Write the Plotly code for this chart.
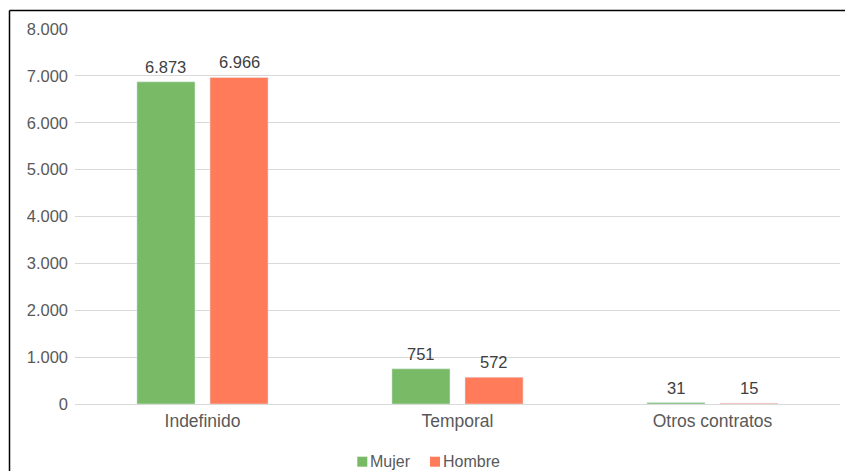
import plotly.graph_objects as go

categories = ["Indefinido", "Temporal", "Otros contratos"]
mujer = [6873, 751, 31]
hombre = [6966, 572, 15]
series_names = ["Mujer", "Hombre"]
series_colors = ["#78BA65", "#FF7B59"]
tick_vals = [0, 1000, 2000, 3000, 4000, 5000, 6000, 7000, 8000]

W, H = 845, 471
plot_left, plot_right, plot_top, plot_bottom = 75, 840, 29, 404
ml, mr, mt, mb = plot_left, W - plot_right, plot_top, H - plot_bottom
pw, ph = W - ml - mr, H - mt - mb
BARGAP, BARGROUPGAP = 0.427, 0.205

font_family = "Liberation Sans, Arial, sans-serif"
axis_color = "#595959"
label_color = "#404040"

def px_x(p):
    return (p - plot_left) / pw

def px_y(p):
    return (plot_bottom - p) / ph

fig = go.Figure()
series = [mujer, hombre]
for name, vals, col in zip(series_names, series, series_colors):
    fig.add_trace(go.Bar(x=categories, y=vals, name=name, marker_color=col, showlegend=False))

# value labels above bars (pixel offsets follow the bar grouping)
slot_px = pw / len(categories) * (1 - BARGAP) / len(series)
annotations = []
for i, vals in enumerate(series):
    xshift = (i - (len(series) - 1) / 2) * slot_px
    for c, v in zip(categories, vals):
        annotations.append(dict(
            x=c, y=v, xref="x", yref="y", text=f"{v:,}".replace(",", "."),
            showarrow=False, xanchor="center", yanchor="bottom", xshift=xshift, yshift=4,
            font=dict(size=16.5, color=label_color, family=font_family),
        ))

# legend drawn in the chart's style: small square + label
legend_sq = [(357.3, 367.3), (430, 440)]
legend_tx = [370, 443]
shapes = []
for name, col, (sx0, sx1), tx in zip(series_names, series_colors, legend_sq, legend_tx):
    shapes.append(dict(type="rect", xref="paper", yref="paper", x0=px_x(sx0), x1=px_x(sx1),
                       y0=px_y(466.7), y1=px_y(456.7), fillcolor=col, line=dict(width=0)))
    annotations.append(dict(x=px_x(tx - 1), y=px_y(461.8), xref="paper", yref="paper", text=name,
                            showarrow=False, xanchor="left", yanchor="middle", borderpad=0,
                            font=dict(size=16, color=axis_color, family=font_family)))

shapes += [
    dict(type="line", xref="paper", yref="paper", x0=px_x(9.5), x1=px_x(846), y0=px_y(10.5), y1=px_y(10.5),
         line=dict(color="black", width=1.5)),
    dict(type="line", xref="paper", yref="paper", x0=px_x(9.5), x1=px_x(9.5), y0=px_y(10.5), y1=px_y(472),
         line=dict(color="black", width=1.5)),
]

fig.update_layout(
    width=W, height=H, autosize=False,
    margin=dict(l=ml, r=mr, t=mt, b=mb, pad=0, autoexpand=False),
    paper_bgcolor="white", plot_bgcolor="white",
    separators=",.",
    barmode="group", bargap=BARGAP, bargroupgap=BARGROUPGAP,
    font=dict(family=font_family, size=16, color=axis_color),
    showlegend=False,
    xaxis=dict(showgrid=False, showline=False, ticks="", ticklabelstandoff=4, automargin=False,
               tickfont=dict(size=17.5, color=axis_color)),
    yaxis=dict(range=[0, 8000], tickvals=tick_vals, tickformat=",", showgrid=True, automargin=False,
               gridcolor="#D9D9D9", gridwidth=1, zeroline=True, zerolinecolor="#D9D9D9",
               zerolinewidth=1, ticks="", ticklabelstandoff=6,
               tickfont=dict(size=16.5, color=axis_color)),
    shapes=shapes,
    annotations=annotations,
)

fig.write_html(
    "out.html",
    config={"responsive": False, "displayModeBar": False},
    post_script="document.body.style.margin='0';document.body.style.overflow='hidden';",
)
